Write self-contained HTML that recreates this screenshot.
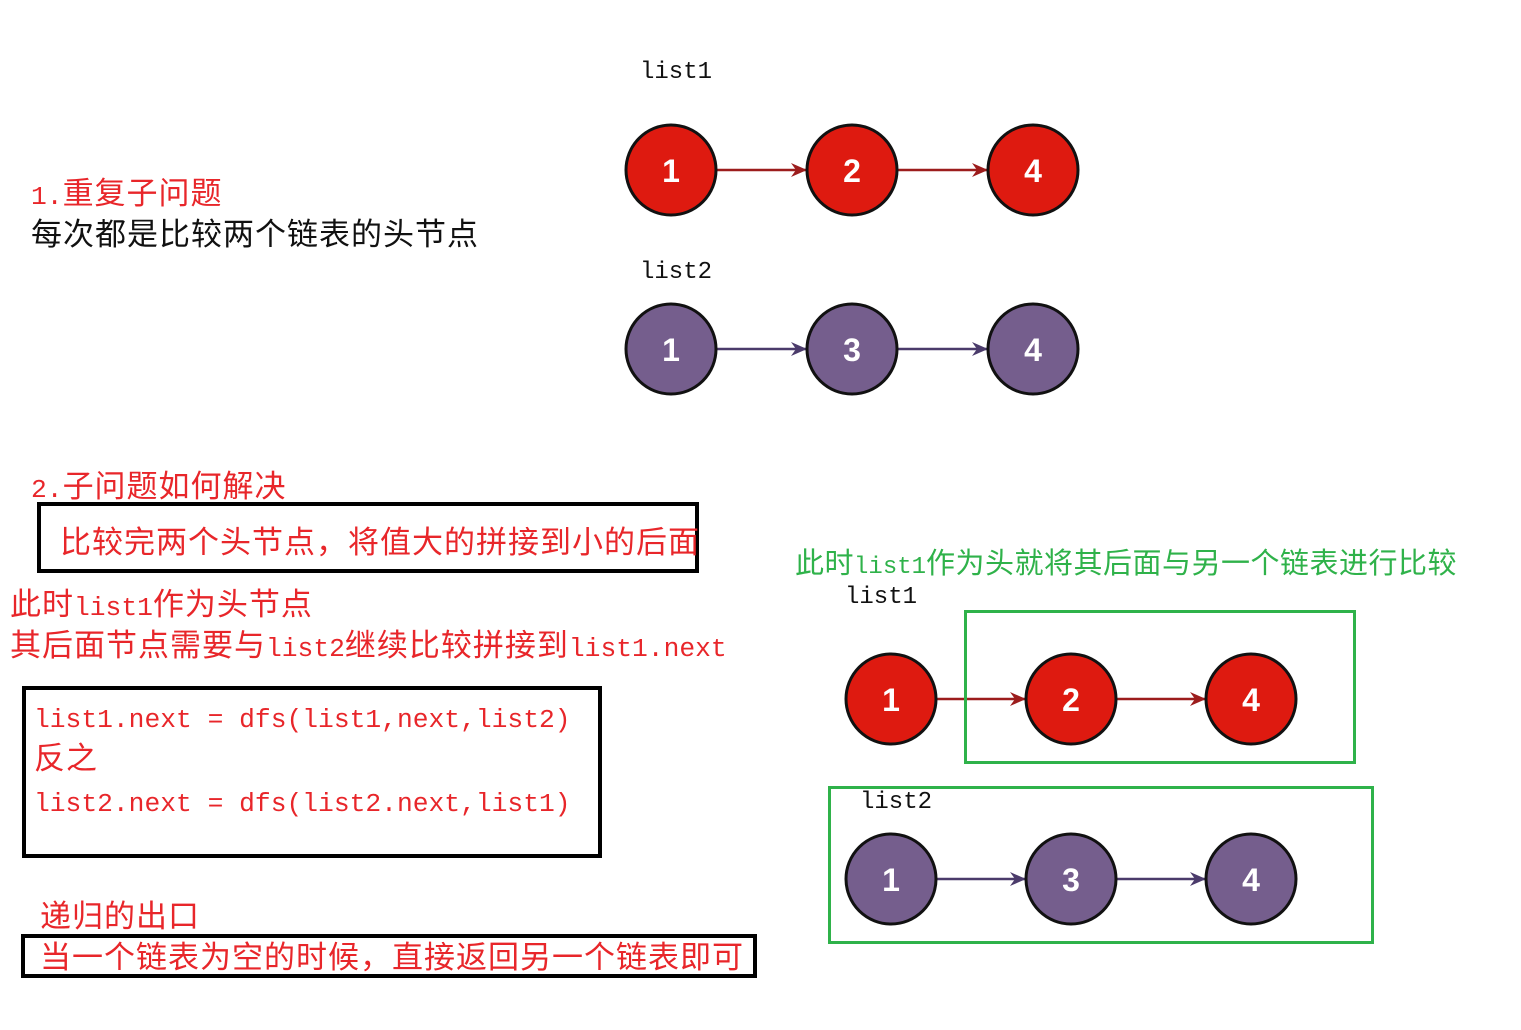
<!DOCTYPE html>
<html><head><meta charset="utf-8"><style>
body{margin:0;width:1521px;height:1030px;background:#fff;position:relative;overflow:hidden;font-family:"Noto Sans CJK SC","WenQuanYi Zen Hei",sans-serif;}
.t{position:absolute;white-space:nowrap;font-size:31px;line-height:34px;letter-spacing:1px}
.m{font-family:"Liberation Mono",monospace;font-size:26.3px;letter-spacing:0}
.r{color:#e8262a}.k{color:#111}.g{color:#2fb24a}
.b{position:absolute;border:4px solid #000;box-sizing:border-box}
.gb{position:absolute;border:3px solid #2fb24a;box-sizing:border-box}
.lab{position:absolute;font-family:"Liberation Mono",monospace;font-size:24px;color:#111;line-height:28px}
svg{position:absolute;left:0;top:0}
</style></head><body>
<svg width="1521" height="1030" font-family="Liberation Sans, sans-serif" font-weight="bold" font-size="32">
<defs>
<marker id="ar" markerWidth="16" markerHeight="14" refX="15" refY="7" orient="auto" markerUnits="userSpaceOnUse"><path d="M0,0 L16,7 L0,14 L5,7z" fill="#9c1c1c"/></marker>
<marker id="ap" markerWidth="16" markerHeight="14" refX="15" refY="7" orient="auto" markerUnits="userSpaceOnUse"><path d="M0,0 L16,7 L0,14 L5,7z" fill="#4b3b6b"/></marker>
</defs>
<g stroke-width="2.5">
<line x1="716" y1="170" x2="806" y2="170" stroke="#9c1c1c" marker-end="url(#ar)"/>
<line x1="897" y1="170" x2="987" y2="170" stroke="#9c1c1c" marker-end="url(#ar)"/>
<line x1="716" y1="349" x2="806" y2="349" stroke="#4b3b6b" marker-end="url(#ap)"/>
<line x1="897" y1="349" x2="987" y2="349" stroke="#4b3b6b" marker-end="url(#ap)"/>
<line x1="936" y1="699" x2="1025" y2="699" stroke="#9c1c1c" marker-end="url(#ar)"/>
<line x1="1116" y1="699" x2="1205" y2="699" stroke="#9c1c1c" marker-end="url(#ar)"/>
<line x1="936" y1="879" x2="1025" y2="879" stroke="#4b3b6b" marker-end="url(#ap)"/>
<line x1="1116" y1="879" x2="1205" y2="879" stroke="#4b3b6b" marker-end="url(#ap)"/>
</g>
<g stroke="#111" stroke-width="3">
<circle cx="671" cy="170" r="45" fill="#de1a10"/><circle cx="852" cy="170" r="45" fill="#de1a10"/><circle cx="1033" cy="170" r="45" fill="#de1a10"/>
<circle cx="671" cy="349" r="45" fill="#755e8d"/><circle cx="852" cy="349" r="45" fill="#755e8d"/><circle cx="1033" cy="349" r="45" fill="#755e8d"/>
<circle cx="891" cy="699" r="45" fill="#de1a10"/><circle cx="1071" cy="699" r="45" fill="#de1a10"/><circle cx="1251" cy="699" r="45" fill="#de1a10"/>
<circle cx="891" cy="879" r="45" fill="#755e8d"/><circle cx="1071" cy="879" r="45" fill="#755e8d"/><circle cx="1251" cy="879" r="45" fill="#755e8d"/>
</g>
<g fill="#fff" text-anchor="middle">
<text x="671" y="182">1</text><text x="852" y="182">2</text><text x="1033" y="182">4</text>
<text x="671" y="361">1</text><text x="852" y="361">3</text><text x="1033" y="361">4</text>
<text x="891" y="711">1</text><text x="1071" y="711">2</text><text x="1251" y="711">4</text>
<text x="891" y="891">1</text><text x="1071" y="891">3</text><text x="1251" y="891">4</text>
</g>
</svg>
<div class="lab" style="left:640px;top:59px">list1</div>
<div class="lab" style="left:640px;top:259px">list2</div>
<div class="lab" style="left:845px;top:584px">list1</div>
<div class="lab" style="left:860px;top:789px">list2</div>
<div class="t r" style="left:31px;top:174px"><span class="m">1.</span>重复子问题</div>
<div class="t k" style="left:31px;top:215px">每次都是比较两个链表的头节点</div>
<div class="t r" style="left:31px;top:467px"><span class="m">2.</span>子问题如何解决</div>
<div class="b" style="left:37px;top:502px;width:662px;height:71px"></div>
<div class="t r" style="left:60px;top:523px">比较完两个头节点，将值大的拼接到小的后面</div>
<div class="t r" style="left:10px;top:585px">此时<span class="m">list1</span>作为头节点</div>
<div class="t r" style="left:10px;top:626px">其后面节点需要与<span class="m">list2</span>继续比较拼接到<span class="m">list1.next</span></div>
<div class="b" style="left:22px;top:686px;width:580px;height:172px"></div>
<div class="t r" style="left:34px;top:697px"><span class="m">list1.next = dfs(list1,next,list2)</span></div>
<div class="t r" style="left:34px;top:739px">反之</div>
<div class="t r" style="left:34px;top:781px"><span class="m">list2.next = dfs(list2.next,list1)</span></div>
<div class="t r" style="left:40px;top:897px">递归的出口</div>
<div class="b" style="left:21px;top:934px;width:736px;height:44px"></div>
<div class="t r" style="left:40px;top:938px">当一个链表为空的时候，直接返回另一个链表即可</div>
<div class="t g" style="left:795px;top:544px;font-size:29px;letter-spacing:0.5px">此时<span class="m" style="font-size:24px">list1</span>作为头就将其后面与另一个链表进行比较</div>
<div class="gb" style="left:964px;top:610px;width:392px;height:154px"></div>
<div class="gb" style="left:828px;top:786px;width:546px;height:158px"></div>
</body></html>
